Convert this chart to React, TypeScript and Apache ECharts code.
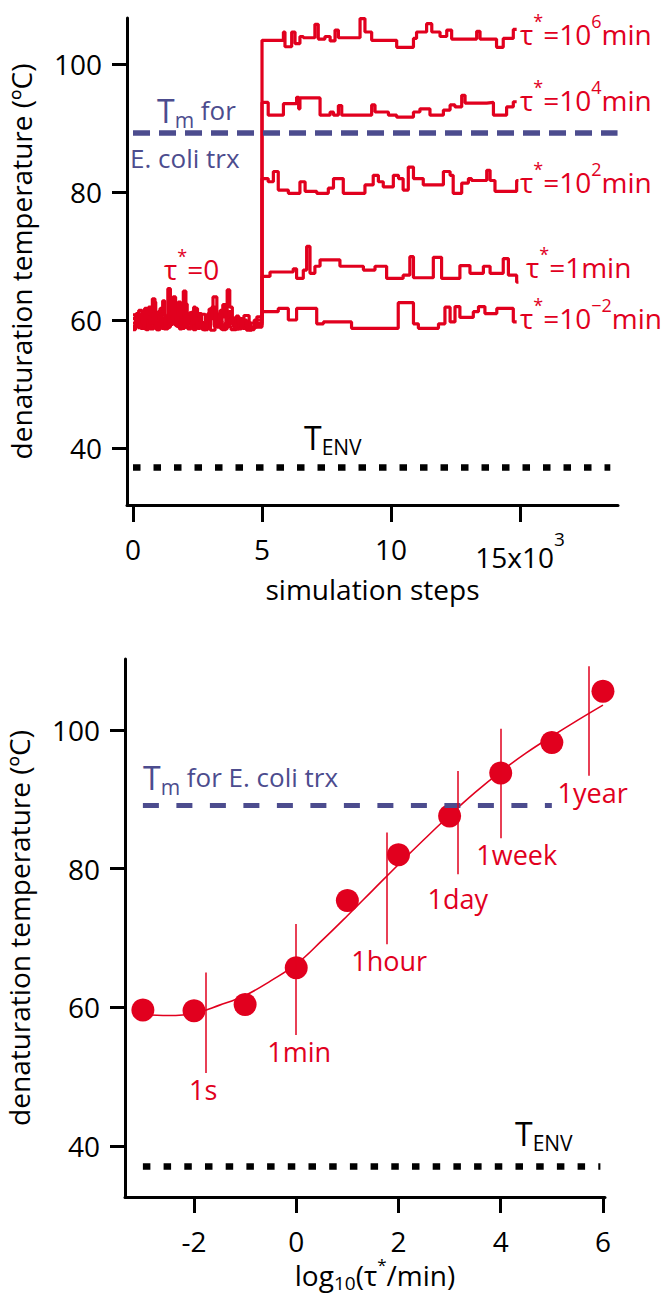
import React, { useEffect, useRef } from 'react';
import * as echarts from 'echarts';

const RED = '#e1001e';
const BLUE = '#4c4c8e';
const FONT = 'Open Sans';

// ---------- top panel: step traces [simulation step, denaturation temperature °C]
const topXTicks = [0, 5000, 10000, 15000];
const topYTicks = [40, 60, 80, 100];

const trace1e6: [number, number][] = [
  [0, 59.5], [120, 61.0], [250, 59.0], [330, 60.2], [450, 58.6], [560, 60.5], [650, 58.6], [800, 62.8],
  [880, 60.2], [1000, 61.4], [1100, 58.8], [1220, 60.3], [1350, 64.9], [1450, 60.0], [1560, 61.6],
  [1700, 59.2], [1820, 60.1], [1900, 61.5], [2000, 58.9], [2100, 59.0], [2250, 61.2], [2400, 60.8],
  [2500, 58.7], [2600, 59.6], [2750, 58.5], [2900, 60.1], [3050, 61.4], [3150, 59.0], [3300, 59.8],
  [3450, 58.6], [3650, 64.7], [3750, 62.0], [3850, 59.3], [4000, 60.6], [4100, 58.8], [4300, 59.8],
  [4500, 58.7], [4700, 60.0],
  [5000, 103.7], [5830, 105.0], [5890, 102.7], [6150, 105.0], [6280, 103.2], [6470, 104.3], [6600, 104.1],
  [7050, 106.2], [7180, 103.9], [7440, 104.3], [7640, 103.6], [7830, 105.3], [7960, 104.1], [8800, 107.1],
  [8990, 105.0], [9250, 103.7], [10220, 102.6], [10870, 104.0], [10990, 105.0], [11380, 106.3],
  [11580, 105.0], [11900, 104.3], [12160, 105.3], [12350, 103.9], [13320, 105.1], [13450, 103.9],
  [14090, 102.6], [14350, 104.0], [14740, 105.4], [14870, 105.4],
];
const trace1e4: [number, number][] = [
  [0, 60.8], [100, 59.4], [200, 58.8], [300, 60.7], [400, 61.5], [480, 58.9], [550, 59.2], [650, 60.1],
  [750, 63.3], [850, 59.5], [950, 58.5], [1050, 61.8], [1120, 60.2], [1200, 58.6], [1350, 60.6],
  [1500, 62.0], [1580, 60.4], [1650, 59.1], [1800, 60.0], [1950, 64.5], [2050, 59.8], [2180, 61.1],
  [2300, 58.7], [2420, 59.7], [2550, 61.0], [2650, 58.6], [2750, 59.3], [2900, 60.5], [3100, 63.6],
  [3250, 58.9], [3380, 61.5], [3500, 60.5], [3650, 59.0], [3800, 58.5], [4000, 59.9], [4200, 59.2],
  [4400, 58.4], [4600, 58.9],
  [5000, 94.0], [5240, 92.0], [5830, 93.8], [6340, 94.8], [6420, 93.0], [6470, 94.7], [7250, 92.0],
  [7640, 92.5], [7770, 92.0], [7960, 93.5], [8090, 92.0], [9250, 93.6], [9380, 92.5], [9900, 92.0],
  [10220, 91.7], [10870, 92.5], [11120, 93.0], [11510, 92.0], [12030, 92.8], [12290, 93.6], [12480, 93.3],
  [12740, 95.1], [12870, 93.9], [13710, 94.0], [13970, 92.0], [14480, 93.3], [14740, 94.1], [14870, 94.1],
];
const trace1e2: [number, number][] = [
  [0, 59.0], [130, 60.9], [250, 60.2], [380, 58.7], [500, 58.5], [600, 60.0], [700, 61.2], [820, 59.1],
  [950, 59.6], [1050, 60.8], [1150, 63.0], [1230, 60.5], [1300, 58.9], [1450, 59.8], [1600, 60.4],
  [1700, 59.0], [1800, 58.6], [1900, 60.2], [2000, 62.5], [2100, 60.9], [2200, 59.4], [2330, 58.5],
  [2450, 60.9], [2580, 59.6], [2700, 58.5], [2820, 60.0], [2950, 61.7], [3050, 60.3], [3150, 59.2],
  [3280, 60.4], [3400, 58.6], [3550, 59.4], [3700, 61.3], [3800, 60.0], [3900, 58.9], [4100, 60.2],
  [4250, 58.7], [4550, 59.5],
  [5000, 82.1], [5240, 81.6], [5440, 83.2], [5630, 80.3], [6020, 79.8], [6470, 81.6], [6670, 80.1],
  [7120, 79.8], [7570, 80.6], [7770, 82.1], [8150, 79.8], [8990, 81.1], [9310, 82.6], [9510, 81.6],
  [9700, 80.8], [10090, 82.6], [10290, 82.1], [10470, 80.3], [10670, 83.9], [10870, 82.1], [11250, 81.1],
  [12030, 83.2], [12290, 82.6], [12410, 79.8], [12740, 81.4], [13000, 82.1], [13120, 81.8], [13710, 83.4],
  [13840, 81.8], [14030, 80.1], [14870, 81.8], [14940, 81.8],
];
const trace1min: [number, number][] = [
  [0, 58.5], [100, 60.3], [220, 61.5], [350, 59.4], [480, 60.6], [600, 62.0], [700, 58.8], [850, 59.7],
  [1000, 60.6], [1120, 58.7], [1250, 59.0], [1400, 61.0], [1550, 63.6], [1650, 60.0], [1750, 61.2],
  [1850, 58.7], [2000, 59.5], [2150, 60.5], [2350, 62.0], [2420, 60.1], [2500, 58.9], [2650, 60.9],
  [2800, 59.9], [2900, 61.0], [3000, 58.4], [3180, 59.5], [3350, 60.8], [3480, 62.4], [3600, 59.4],
  [3780, 60.3], [3950, 58.6], [4100, 59.1], [4300, 60.7], [4500, 58.5], [4700, 59.2],
  [5000, 66.8], [5310, 67.5], [6210, 68.0], [6340, 66.5], [6600, 67.8], [6730, 71.5], [6860, 67.3],
  [7050, 68.4], [7250, 69.4], [8020, 68.4], [8930, 67.8], [9380, 68.4], [9830, 66.5], [10470, 67.0],
  [10730, 69.9], [10870, 66.6], [11640, 69.8], [11960, 66.5], [12670, 68.5], [13060, 67.3], [13580, 68.4],
  [13840, 67.3], [14350, 69.6], [14550, 67.0], [14870, 65.9], [14940, 65.9],
];
const trace1e_2: [number, number][] = [
  [0, 60.2], [150, 59.2], [300, 58.7], [450, 61.8], [550, 60.4], [650, 59.5], [780, 61.1], [900, 58.5],
  [1000, 59.4], [1100, 60.9], [1250, 58.8], [1400, 59.3], [1550, 60.7], [1750, 62.8], [1850, 58.9],
  [2000, 60.6], [2120, 58.6], [2250, 59.6], [2380, 61.8], [2500, 60.8], [2600, 59.3], [2700, 58.7],
  [2850, 60.3], [3050, 62.0], [3200, 59.7], [3330, 61.0], [3450, 58.5], [3600, 59.6], [3750, 60.1],
  [3880, 59.2], [4000, 58.6], [4200, 60.0], [4400, 58.9], [4800, 60.5],
  [5000, 61.3], [5630, 61.8], [6020, 60.0], [6340, 61.8], [7120, 59.4], [7380, 59.7], [8470, 58.7],
  [10280, 62.7], [10870, 59.4], [11060, 58.7], [11840, 59.4], [12090, 62.0], [12290, 59.7], [12480, 62.1],
  [12670, 60.4], [13190, 61.3], [13390, 62.1], [13640, 61.0], [14100, 61.8], [14740, 59.7], [14870, 59.7],
];
const topTraces = [trace1e6, trace1e4, trace1e2, trace1min, trace1e_2];
const topLabels = [
  '{m|τ}{s|*}{m|=10}{s|6}{m|min}',
  '{m|τ}{s|*}{m|=10}{s|4}{m|min}',
  '{m|τ}{s|*}{m|=10}{s|2}{m|min}',
  '{m|τ}{s|*}{m|=1min}',
  '{m|τ}{s|*}{m|=10}{s|−2}{m|min}',
];

// ---------- bottom panel
const logTau = [-3, -2, -1, 0, 1, 2, 3, 4, 5, 6];
const denatTemp = [59.6, 59.5, 60.4, 65.7, 75.4, 82.0, 87.6, 93.8, 98.2, 105.6];
const fitX = [-3, -2.5, -2, -1.5, -1, -0.5, 0, 0.5, 1, 1.5, 2, 2.5, 3, 3.5, 4, 4.5, 5, 5.5, 6];
const fitY = [58.9, 58.8, 59.1, 60.3, 61.7, 63.8, 66.2, 69.6, 73.2, 76.9, 80.6, 84.2, 87.7, 91.0, 94.0, 96.7, 99.1, 101.4, 103.6];
const timeMarkNames = ['1s', '1min', '1hour', '1day', '1week', '1year'];
const timeMarkX = [-1.78, 0, 1.78, 3.16, 4.0, 5.72];
const timeMarkTop = [65.0, 72.0, 85.2, 94.1, 100.2, 109.2];
const timeMarkBottom = [50.5, 56.0, 69.1, 79.2, 84.4, 93.4];
const timeMarkLabelShift = [-2, 3, 2, 0, 16, 4];
const bottomXTicks = [-2, 0, 2, 4, 6];
const bottomYTicks = [40, 60, 80, 100];

const T_M = 89.2;
const T_ENV = 37;

const txt = (size: number, color = '#000') => ({ fontSize: size, fontFamily: FONT, color });
const gtxt = (size: number, color = '#000') => ({ fontSize: size, fontFamily: FONT, fill: color, color });

function buildOption() {
  const axisLineStyle = { onZero: false, lineStyle: { color: '#000', width: 3 } };
  const tickStyle = { show: true, length: 15, lineStyle: { color: '#000', width: 3 } };

  const topSeries: any[] = topTraces.map((tr, i) => ({
    type: 'line',
    xAxisIndex: 0,
    yAxisIndex: 0,
    step: 'end',
    data: tr,
    symbol: 'none',
    showSymbol: false,
    silent: true,
    lineStyle: { color: RED, width: 3.2 },
    itemStyle: { color: RED },
    z: 3,
    markLine:
      i === 0
        ? {
            silent: true,
            symbol: ['none', 'none'],
            label: { show: false },
            data: [
              [
                { coord: [0, T_M], lineStyle: { color: BLUE, width: 5.5, type: [17, 9] } },
                { coord: [18780, T_M] },
              ],
              [
                { coord: [0, T_ENV], lineStyle: { color: '#000', width: 6.5, type: [7.5, 13] } },
                { coord: [18500, T_ENV] },
              ],
            ],
          }
        : undefined,
  }));

  const timeMarkData = timeMarkNames.map((name, i) => [
    {
      coord: [timeMarkX[i], timeMarkTop[i]],
      lineStyle: { color: RED, width: 1.5, type: 'solid' },
      label: {
        show: true,
        position: 'end',
        distance: 3,
        formatter: name,
        offset: [timeMarkLabelShift[i], i === 3 ? 8 : 0],
        ...txt(27, RED),
      },
    },
    { coord: [timeMarkX[i], timeMarkBottom[i]] },
  ]);

  const bottomSeries: any[] = [
    {
      type: 'line',
      xAxisIndex: 1,
      yAxisIndex: 1,
      data: fitX.map((x, i) => [x, fitY[i]]),
      smooth: 0.4,
      symbol: 'none',
      showSymbol: false,
      silent: true,
      lineStyle: { color: RED, width: 1.6 },
      z: 2,
      markLine: {
        silent: true,
        symbol: ['none', 'none'],
        label: { show: false },
        data: [
          [
            { coord: [-3, T_M], lineStyle: { color: BLUE, width: 5, type: [16, 17.5] } },
            { coord: [5.0, T_M] },
          ],
          [
            { coord: [-3, T_ENV], lineStyle: { color: '#000', width: 6.5, type: [7.5, 13.2] } },
            { coord: [5.95, T_ENV] },
          ],
          ...timeMarkData,
        ],
      },
    },
    {
      type: 'scatter',
      xAxisIndex: 1,
      yAxisIndex: 1,
      data: logTau.map((x, i) => [x, denatTemp[i]]),
      symbol: 'circle',
      symbolSize: 23,
      silent: true,
      itemStyle: { color: RED, opacity: 1 },
      z: 4,
    },
  ];

  const yTitle = 'denaturation temperature (ºC)';

  const graphicTexts: any[] = [];
  const labelY = [33.5, 100, 182, 267, 318];
  const richTau = {
    m: { ...gtxt(28, RED), lineHeight: 32 },
    s: { ...gtxt(18, RED), lineHeight: 18, padding: [0, 0, 26, 0] },
  };
  topLabels.forEach((t, i) => {
    graphicTexts.push({
      type: 'text',
      x: i === 3 ? 526 : 520,
      y: labelY[i],
      silent: true,
      style: { text: t, align: 'left', verticalAlign: 'middle', rich: richTau },
    });
  });
  const richT = (color: string) => ({
    T: { ...gtxt(32, color), lineHeight: 36 },
    sub: { ...gtxt(21, color), lineHeight: 22, padding: [20, 0, 0, 0] },
    n: { ...gtxt(26, color), lineHeight: 30 },
  });
  graphicTexts.push(
    {
      type: 'text', x: 157, y: 110, silent: true,
      style: { text: '{T|T}{sub|m}{n| for}', align: 'left', verticalAlign: 'middle', rich: richT(BLUE) },
    },
    {
      type: 'text', x: 130, y: 158, silent: true,
      style: { text: '{n|E. coli trx}', align: 'left', verticalAlign: 'middle', rich: richT(BLUE) },
    },
    {
      type: 'text', x: 164, y: 269, silent: true,
      style: { text: '{m|τ}{s|*}{m|=0}', align: 'left', verticalAlign: 'middle', rich: richTau },
    },
    {
      type: 'text', x: 304, y: 437, silent: true,
      style: { text: '{T|T}{sub|ENV}', align: 'left', verticalAlign: 'middle', rich: richT('#000') },
    },
    {
      type: 'text', x: 143, y: 777, silent: true,
      style: { text: '{T|T}{sub|m}{n| for E. coli trx}', align: 'left', verticalAlign: 'middle', rich: richT(BLUE) },
    },
    {
      type: 'text', x: 515, y: 1133, silent: true,
      style: { text: '{T|T}{sub|ENV}', align: 'left', verticalAlign: 'middle', rich: richT('#000') },
    }
  );

  return {
    animation: false,
    backgroundColor: '#fff',
    textStyle: { fontFamily: FONT },
    grid: [
      { left: 127, top: 18, width: 491, height: 487, containLabel: false, outerBoundsMode: 'none' },
      { left: 125, top: 659, width: 480, height: 538, containLabel: false, outerBoundsMode: 'none' },
    ],
    xAxis: [
      {
        type: 'value',
        gridIndex: 0,
        min: -233,
        max: 18798,
        splitLine: { show: false },
        axisLine: axisLineStyle,
        axisTick: { ...tickStyle, length: 17, customValues: topXTicks },
        axisLabel: {
          customValues: topXTicks,
          margin: 30,
          ...txt(28),
          formatter: (v: number) => (v === 15000 ? '{a|15x10}{s|3}' : String(v / 1000)),
          rich: {
            a: { ...txt(28), lineHeight: 28, padding: [16, 0, 0, 0] },
            s: { ...txt(19), lineHeight: 19, padding: [0, 0, 20, 0] },
          },
        },
        name: 'simulation steps',
        nameLocation: 'middle',
        nameGap: 70,
        nameTextStyle: { ...txt(28) },
      },
      {
        type: 'value',
        gridIndex: 1,
        min: -3.35,
        max: 6.04,
        splitLine: { show: false },
        axisLine: axisLineStyle,
        axisTick: { ...tickStyle, length: 16, customValues: bottomXTicks },
        axisLabel: { customValues: bottomXTicks, margin: 30, ...txt(28) },
        name: 'log{sub|10}(τ{sup|*}/min)',
        nameLocation: 'middle',
        nameGap: 63,
        nameTextStyle: {
          ...txt(28),
          padding: [0, 0, 0, 20],
          rich: {
            sub: { ...txt(19), lineHeight: 19, padding: [16, 0, 0, 0] },
            sup: { ...txt(17), lineHeight: 17, padding: [0, 0, 22, 0] },
          },
        },
      },
    ],
    yAxis: [
      {
        type: 'value',
        gridIndex: 0,
        min: 31.09,
        max: 107.19,
        splitLine: { show: false },
        axisLine: axisLineStyle,
        axisTick: { ...tickStyle, customValues: topYTicks },
        axisLabel: { customValues: topYTicks, margin: 25, ...txt(28) },
        name: yTitle,
        nameLocation: 'middle',
        nameGap: 92,
        nameRotate: 90,
        nameTextStyle: { ...txt(28) },
      },
      {
        type: 'value',
        gridIndex: 1,
        min: 32.61,
        max: 110.25,
        splitLine: { show: false },
        axisLine: axisLineStyle,
        axisTick: { ...tickStyle, customValues: bottomYTicks },
        axisLabel: { customValues: bottomYTicks, margin: 25, ...txt(28) },
        name: yTitle,
        nameLocation: 'middle',
        nameGap: 92,
        nameRotate: 90,
        nameTextStyle: { ...txt(28) },
      },
    ],
    series: [...topSeries, ...bottomSeries],
    graphic: { elements: graphicTexts },
  };
}

export default function App() {
  const ref = useRef<HTMLDivElement>(null);
  useEffect(() => {
    if (!ref.current) return;
    const chart = echarts.init(ref.current, null, { renderer: 'svg' });
    chart.setOption(buildOption() as any);
    return () => chart.dispose();
  }, []);
  return (
    <div
      ref={ref}
      style={{ position: 'absolute', left: 0, top: 0, width: 666, height: 1299, background: '#fff' }}
    />
  );
}
